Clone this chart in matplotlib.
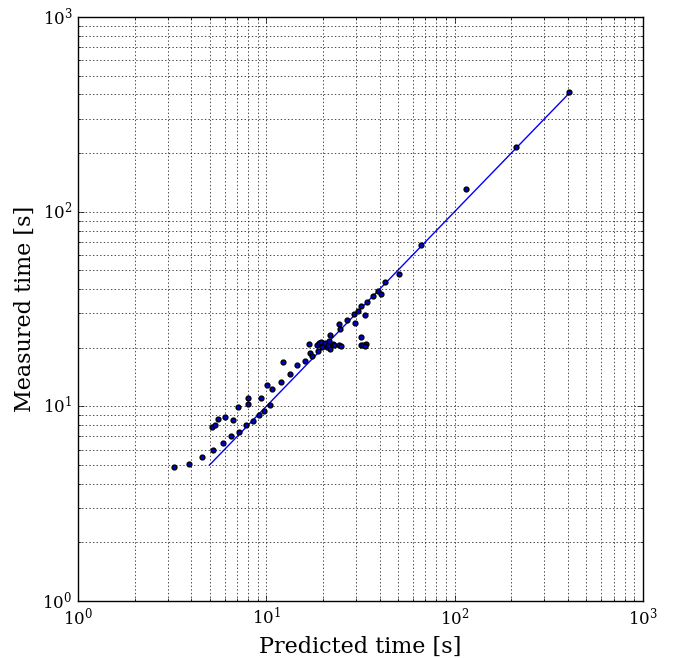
import matplotlib
matplotlib.use("Agg")
import matplotlib.pyplot as plt
import numpy as np

plt.style.use("classic")
plt.rcParams["font.family"] = "serif"
plt.rcParams["font.serif"] = ["DejaVu Serif"]
plt.rcParams["mathtext.fontset"] = "dejavuserif"
plt.rcParams["lines.scale_dashes"] = False

predicted = [3.25, 3.90, 4.55, 5.21, 5.87, 6.52, 7.16, 7.83, 8.47, 9.11, 9.76, 10.4,
             5.14, 5.32, 5.56, 6.06, 6.68, 7.05, 8.03, 8.03, 9.33, 10.05, 10.7, 12.0,
             12.2, 13.4, 14.6, 16.0, 16.8, 17.1, 17.5,
             18.7, 19.1, 19.6, 19.8, 20.5, 20.9, 21.3, 21.8, 21.9, 21.5, 22.5, 22.8,
             24.4, 24.8, 18.9,
             24.3, 24.7, 26.7, 29.2, 29.5, 30.7, 31.7, 33.3,
             31.7, 31.7, 32.5, 33.8, 33.3,
             34.1, 36.7, 39.2, 40.6, 42.8, 50.8, 66.5, 114.9, 211.7, 404.8]
measured = [4.88, 5.08, 5.47, 5.99, 6.46, 7.02, 7.41, 8.0, 8.44, 9.0, 9.50, 10.2,
            7.86, 8.05, 8.64, 8.78, 8.48, 9.96, 10.24, 11.1, 11.0, 12.9, 12.3, 13.4,
            16.8, 14.7, 16.4, 17.0, 20.8, 18.7, 18.2,
            20.6, 21.1, 21.4, 20.2, 21.1, 20.1, 20.6, 19.6, 23.2, 21.7, 20.9, 20.6,
            20.6, 20.5, 19.3,
            26.4, 25.0, 27.9, 29.8, 26.7, 30.8, 32.6, 29.6,
            22.6, 20.7, 20.7, 20.8, 20.4,
            34.2, 36.8, 39.0, 37.6, 43.5, 48.0, 67.4, 130.3, 215.6, 413.3]
ideal = [5, 400]

fig = plt.figure(figsize=(6.84, 6.58), dpi=100, facecolor="white")
ax = fig.add_axes([0.114, 0.0866, 0.826, 0.8876])

ax.plot(ideal, ideal, color="blue", lw=1)
ax.scatter(predicted, measured, s=12, c="#0000cc", edgecolors="black", zorder=3)

ax.set_xscale("log")
ax.set_yscale("log")
ax.set_xlim(1, 1000)
ax.set_ylim(1, 1000)
ax.grid(True, which="both", color="black", linestyle=(0, (1, 1.6)), lw=0.5)
ax.set_xlabel("Predicted time [s]", fontsize=16)
ax.set_ylabel("Measured time [s]", fontsize=16)

fig.savefig("out.png", dpi=100, facecolor="white")
